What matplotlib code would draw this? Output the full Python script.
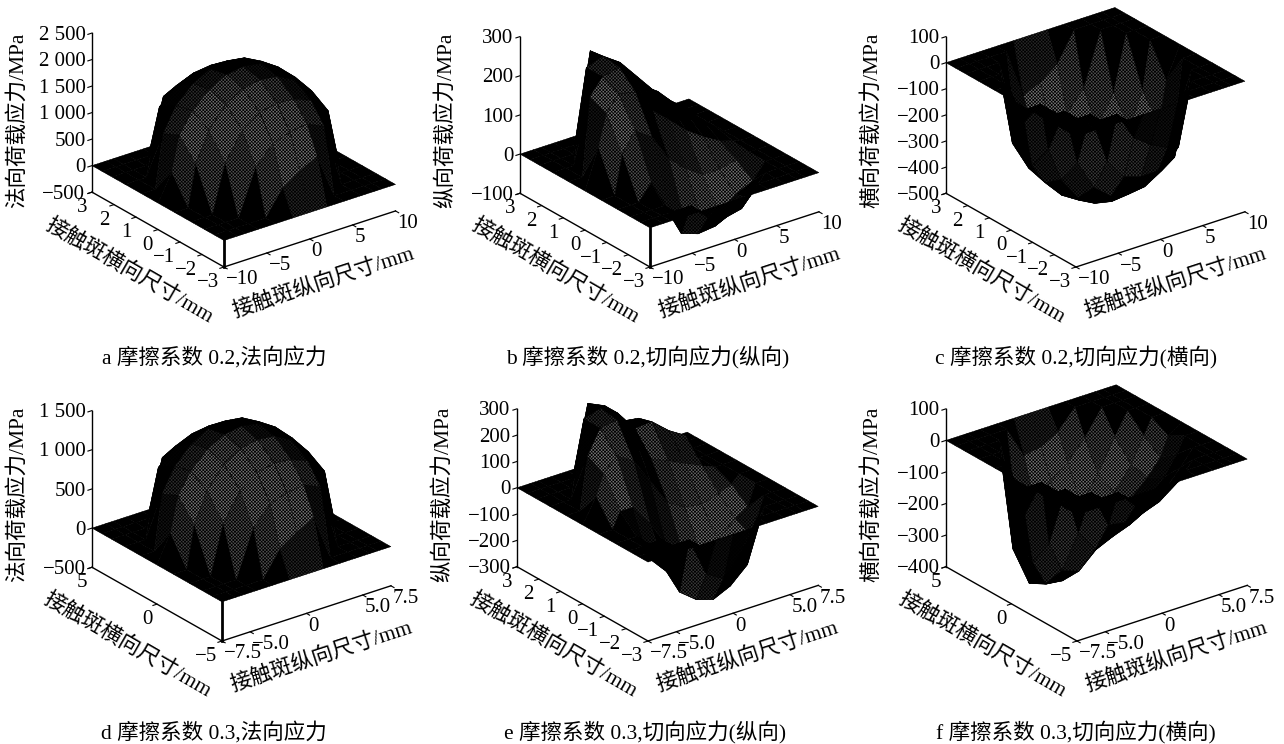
import numpy as np
import matplotlib
matplotlib.use('Agg')
import matplotlib.pyplot as plt
from mpl_toolkits.mplot3d import proj3d

plt.rcParams['font.family'] = ['Liberation Serif', 'Noto Sans CJK SC', 'DejaVu Sans']
plt.rcParams['hatch.linewidth'] = 0.5

# grid nodes as a fraction of the axis range
u_nodes = np.array([-1, -.84, -.75, -.6, -.4, -.2, 0, .2, .4, .6, .75, .84, 1])
v_nodes = np.array([-1, -.85, -.7, -.5, -.25, 0, .25, .5, .7, .85, 1])

# stress tables, rows go from -y to +y
stress_a = [
    [0]*13,
    [0, 0, 0, 0, 0, 469, 674, 850, 0, 0, 0, 0, 0],
    [0, 0, 0, 0, 855, 1195, 1300, 1350, 1200, 0, 0, 0, 0],
    [0, 0, 0, 900, 1406, 1634, 1704, 1680, 1550, 1250, 0, 0, 0],
    [0, 0, 779, 1337, 1720, 1911, 1970, 1930, 1760, 1450, 1000, 0, 0],
    [0, 500, 1150, 1530, 1830, 2000, 2050, 2000, 1830, 1530, 1150, 600, 0],
    [0, 0, 1000, 1450, 1760, 1930, 1980, 1930, 1760, 1450, 1000, 0, 0],
    [0, 0, 0, 1250, 1550, 1680, 1720, 1680, 1550, 1250, 0, 0, 0],
    [0, 0, 0, 0, 1200, 1350, 1400, 1350, 1200, 0, 0, 0, 0],
    [0, 0, 0, 0, 0, 850, 950, 850, 0, 0, 0, 0, 0],
    [0]*13,
]
stress_b = [
    [0]*13,
    [0, 0, 0, 0, 0, -45, -60, -50, 0, 0, 0, 0, 0],
    [0, 0, 0, 0, -85, -100, -95, -75, -50, 0, 0, 0, 0],
    [0, 0, 0, 40, -40, -90, -100, -90, -60, -40, 0, 0, 0],
    [0, 0, 100, 150, 120, 50, 10, -20, -20, -10, 0, 0, 0],
    [0, 100, 180, 220, 210, 150, 110, 70, 40, 15, 5, 0, 0],
    [0, 0, 200, 240, 250, 190, 150, 110, 75, 40, 15, 0, 0],
    [0, 0, 0, 240, 255, 225, 175, 125, 85, 50, 0, 0, 0],
    [0, 0, 0, 0, 250, 215, 165, 120, 90, 0, 0, 0, 0],
    [0, 0, 0, 0, 0, 200, 160, 110, 0, 0, 0, 0, 0],
    [0]*13,
]
stress_c = [
    [0]*13,
    [0, 0, 0, 0, 0, -110, -158, -190, 0, 0, 0, 0, 0],
    [0, 0, 0, 0, -200, -280, -301, -300, -270, 0, 0, 0, 0],
    [0, 0, 0, -211, -329, -383, -399, -390, -350, -280, 0, 0, 0],
    [0, 0, -182, -313, -403, -447, -461, -450, -410, -340, -240, 0, 0],
    [0, -100, -280, -360, -430, -470, -480, -470, -430, -360, -280, -120, 0],
    [0, 0, -240, -340, -410, -450, -461, -447, -403, -313, -182, 0, 0],
    [0, 0, 0, -280, -350, -390, -399, -383, -329, -211, 0, 0, 0],
    [0, 0, 0, 0, -270, -300, -301, -280, -200, 0, 0, 0, 0],
    [0, 0, 0, 0, 0, -190, -158, -110, 0, 0, 0, 0, 0],
    [0]*13,
]
stress_d = [
    [0]*13,
    [0, 0, 0, 0, 0, 325, 467, 590, 0, 0, 0, 0, 0],
    [0, 0, 0, 0, 592, 828, 900, 930, 830, 0, 0, 0, 0],
    [0, 0, 0, 623, 974, 1132, 1180, 1160, 1070, 870, 0, 0, 0],
    [0, 0, 540, 926, 1191, 1323, 1365, 1340, 1220, 1000, 700, 0, 0],
    [0, 350, 800, 1060, 1270, 1385, 1420, 1385, 1270, 1060, 800, 420, 0],
    [0, 0, 700, 1000, 1220, 1340, 1370, 1340, 1220, 1000, 700, 0, 0],
    [0, 0, 0, 870, 1070, 1160, 1190, 1160, 1070, 870, 0, 0, 0],
    [0, 0, 0, 0, 830, 930, 970, 930, 830, 0, 0, 0, 0],
    [0, 0, 0, 0, 0, 590, 660, 590, 0, 0, 0, 0, 0],
    [0]*13,
]
stress_e = [
    [0]*13,
    [0, 0, 0, 0, 0, -150, -190, -120, 0, 0, 0, 0, 0],
    [0, 0, 0, 0, -220, -270, -290, -260, -200, 0, 0, 0, 0],
    [0, 0, 0, -100, -170, -260, -295, -280, -220, -140, 0, 0, 0],
    [0, 0, 60, 60, -20, -130, -190, -200, -170, -110, -80, 0, 0],
    [0, 90, 170, 220, 180, 80, -20, -60, -70, -50, -30, 0, 0],
    [0, 0, 200, 290, 300, 220, 110, 80, 50, 20, 0, 0, 0],
    [0, 0, 0, 290, 310, 270, 190, 195, 140, 100, 0, 0, 0],
    [0, 0, 0, 0, 300, 270, 190, 180, 110, 0, 0, 0, 0],
    [0, 0, 0, 0, 0, 220, 170, 120, 0, 0, 0, 0, 0],
    [0]*13,
]
stress_f = [
    [0]*13,
    [0, 0, 0, 0, 0, -60, -60, -40, 0, 0, 0, 0, 0],
    [0, 0, 0, 0, -120, -130, -120, -100, -60, 0, 0, 0, 0],
    [0, 0, 0, -150, -220, -200, -180, -150, -110, -50, 0, 0, 0],
    [0, 0, -200, -300, -320, -270, -230, -200, -160, -110, -50, 0, 0],
    [0, -130, -290, -370, -380, -320, -280, -240, -190, -140, -90, -30, 0],
    [0, 0, -250, -400, -420, -370, -310, -260, -200, -130, -50, 0, 0],
    [0, 0, 0, -320, -430, -380, -300, -250, -170, -70, 0, 0, 0],
    [0, 0, 0, 0, -250, -220, -180, -140, -80, 0, 0, 0, 0],
    [0, 0, 0, 0, 0, -100, -90, -60, 0, 0, 0, 0, 0],
    [0]*13,
]

xticks_top = [-10, -5, 0, 5, 10]
xlabels_top = ['\u221210', '\u22125', '0', '5', '10']
yticks_top = [-3, -2, -1, 0, 1, 2, 3]
ylabels_top = ['\u22123', '\u22122', '\u22121', '0', '1', '2', '3']
xticks_low = [-7.5, -5, 0, 5, 7.5]
xlabels_low = ['\u22127.5', '\u22125.0', '0', '5.0', '7.5']
yticks_wide = [-5, 0, 5]
ylabels_wide = ['\u22125', '0', '5']

zticks_a = [-500, 0, 500, 1000, 1500, 2000, 2500]
zlabels_a = ['\u2212500', '0', '500', '1 000', '1 500', '2 000', '2 500']
zticks_b = [-100, 0, 100, 200, 300]
zlabels_b = ['\u2212100', '0', '100', '200', '300']
zticks_c = [-500, -400, -300, -200, -100, 0, 100]
zlabels_c = ['\u2212500', '\u2212400', '\u2212300', '\u2212200', '\u2212100', '0', '100']
zticks_d = [-500, 0, 500, 1000, 1500]
zlabels_d = ['\u2212500', '0', '500', '1 000', '1 500']
zticks_e = [-300, -200, -100, 0, 100, 200, 300]
zlabels_e = ['\u2212300', '\u2212200', '\u2212100', '0', '100', '200', '300']
zticks_f = [-400, -300, -200, -100, 0, 100]
zlabels_f = ['\u2212400', '\u2212300', '\u2212200', '\u2212100', '0', '100']

W, H = 1284, 744
ELEV, AZIM = 25.5, -127.2
BOX = (215, 218, 176)
view = np.array([np.cos(np.radians(AZIM))*np.cos(np.radians(ELEV)),
                 np.sin(np.radians(AZIM))*np.cos(np.radians(ELEV)),
                 np.sin(np.radians(ELEV))])
rim_fade = [1, 0.7, 0.35, 0, 0]

fig = plt.figure(figsize=(W/100, H/100), dpi=100)


def face_colors(Z, zspan):
    px = (u_nodes+1)/2*BOX[0]
    py = (v_nodes+1)/2*BOX[1]
    pz = Z/zspan*BOX[2]
    colors = np.zeros(Z.shape+(4,))
    colors[..., 3] = 1
    for j in range(Z.shape[0]-1):
        for i in range(Z.shape[1]-1):
            cell = Z[j:j+2, i:i+2]
            dx = px[i+1]-px[i]
            dy = py[j+1]-py[j]
            gx = (pz[j, i+1]+pz[j+1, i+1]-pz[j, i]-pz[j+1, i])/2/dx
            gy = (pz[j+1, i]+pz[j+1, i+1]-pz[j, i]-pz[j, i+1])/2/dy
            n = np.array([-gx, -gy, 1.0])
            n = n/np.linalg.norm(n)
            # the mesh prints black where it meets the floor and at grazing angles
            fade = rim_fade[int(np.sum(cell == 0))]
            colors[j, i, :3] = 0.45*fade*np.clip((abs(n.dot(view))-0.4)/0.45, 0, 1)
    return colors


def fit_box(ax, corner_left, corner_front, zoom=1.0):
    # scale and shift the axes until the box lands on the target pixels
    xlim = ax.get_xlim()
    ylim = ax.get_ylim()
    zlim = ax.get_zlim()
    for k in range(2):
        fig.canvas.draw()
        M = ax.get_proj()
        pts = []
        for x, y in [(xlim[0], ylim[1]), (xlim[0], ylim[0])]:
            a, b, _ = proj3d.proj_transform(x, y, zlim[0], M)
            pts.append(ax.transData.transform((a, b)))
        width = pts[1][0]-pts[0][0]
        zoom = zoom*(corner_front[0]-corner_left[0])/width
        ax.set_box_aspect(BOX, zoom=zoom)
    fig.canvas.draw()
    M = ax.get_proj()
    a, b, _ = proj3d.proj_transform(xlim[0], ylim[0], zlim[0], M)
    p = ax.transData.transform((a, b))
    pos = ax.get_position()
    ax.set_position([pos.x0+(corner_front[0]-p[0])/W,
                     pos.y0+((H-corner_front[1])-p[1])/H,
                     pos.width, pos.height])


def panel(left, front, Z, xmax, ymax, zlim, xt, xl, yt, yl, zt, zl, zname, caption, cap_x, cap_y, spike):
    Z = np.array(Z, dtype=float)
    ax = fig.add_axes([(left-40)/W, 1-(front[1]+60)/H, 420/W, 370/H], projection='3d')
    ax.patch.set_alpha(0)
    ax.set_proj_type('ortho')
    ax.view_init(elev=ELEV, azim=AZIM)
    ax.set_box_aspect(BOX)
    X, Y = np.meshgrid(u_nodes*xmax, v_nodes*ymax)
    surf = ax.plot_surface(X, Y, Z, rstride=1, cstride=1, facecolors=face_colors(Z, zlim[1]-zlim[0]),
                           edgecolor='k', linewidth=0.3, shade=False, antialiased=True)
    surf.set_hatch('xxxxxxxxxx')
    if spike:
        ax.plot([-xmax, -xmax], [-ymax, -ymax], [zlim[0], 0], color='k', lw=2)
    ax.set_xlim(-xmax, xmax, view_margin=0)
    ax.set_ylim(-ymax, ymax, view_margin=0)
    ax.set_zlim(zlim[0], zlim[1], view_margin=0)
    ax.set_xticks(xt)
    ax.set_xticklabels(xl, fontsize=15, ha='left')
    ax.set_yticks(yt)
    ax.set_yticklabels(yl, fontsize=15, ha='right')
    ax.set_zticks(zt)
    ax.set_zticklabels(zl, fontsize=15, ha='right', va='center_baseline')
    ax.grid(False)
    for axis in [ax.xaxis, ax.yaxis, ax.zaxis]:
        axis.pane.set_visible(False)
        axis.line.set_color('k')
        axis.line.set_linewidth(1.0)
        axis._axinfo['tick']['inward_factor'] = 0.3
        axis._axinfo['tick']['outward_factor'] = 0.0
    ax.tick_params(axis='x', pad=-6)
    ax.tick_params(axis='y', pad=-4)
    ax.tick_params(axis='z', pad=-5)
    fit_box(ax, (left, front[1]), front)
    fig.text((front[0]+99)/W, 1-(front[1]+15)/H, '接触斑纵向尺寸/mm', rotation=18, fontsize=15.5,
             ha='center', va='center', rotation_mode='anchor')
    fig.text((front[0]-95)/W, 1-(front[1]+4)/H, '接触斑横向尺寸/mm', rotation=-30, fontsize=15.5,
             ha='center', va='center', rotation_mode='anchor')
    fig.text((left-74)/W, 1-(front[1]-147)/H, zname, rotation=90, fontsize=15.5,
             ha='center', va='center')
    fig.text(cap_x/W, 1-(cap_y+1)/H, caption, fontsize=15.5, ha='center', va='center')


panel(92, (224, 267), stress_a, 10, 3, (-500, 2500), xticks_top, xlabels_top, yticks_top, ylabels_top,
      zticks_a, zlabels_a, '法向荷载应力/MPa', 'a 摩擦系数 0.2,法向应力', 214, 357, True)
panel(520, (650, 267), stress_b, 10, 3, (-100, 300), xticks_top, xlabels_top, yticks_top, ylabels_top,
      zticks_b, zlabels_b, '纵向荷载应力/MPa', 'b 摩擦系数 0.2,切向应力(纵向)', 648, 357, True)
panel(946, (1076, 267), stress_c, 10, 3, (-500, 100), xticks_top, xlabels_top, yticks_top, ylabels_top,
      zticks_c, zlabels_c, '横向荷载应力/MPa', 'c 摩擦系数 0.2,切向应力(横向)', 1076, 357, False)
panel(92, (222, 641), stress_d, 7.5, 5, (-500, 1500), xticks_low, xlabels_low, yticks_wide, ylabels_wide,
      zticks_d, zlabels_d, '法向荷载应力/MPa', 'd 摩擦系数 0.3,法向应力', 214, 732, True)
panel(517, (648, 641), stress_e, 7.5, 3, (-300, 300), xticks_low, xlabels_low, yticks_top, ylabels_top,
      zticks_e, zlabels_e, '纵向荷载应力/MPa', 'e 摩擦系数 0.3,切向应力(纵向)', 645, 732, False)
panel(946, (1077, 641), stress_f, 7.5, 5, (-400, 100), xticks_low, xlabels_low, yticks_wide, ylabels_wide,
      zticks_f, zlabels_f, '横向荷载应力/MPa', 'f 摩擦系数 0.3,切向应力(横向)', 1076, 732, False)

fig.savefig('out.png', dpi=100)
